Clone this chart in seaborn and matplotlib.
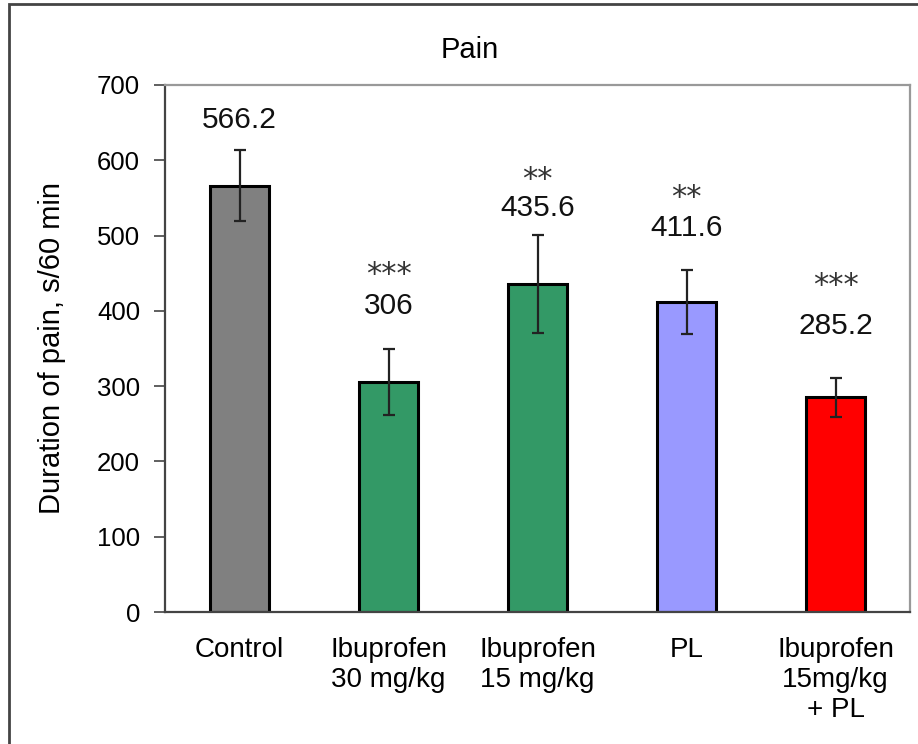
import numpy as np
import pandas as pd
import matplotlib
matplotlib.use('Agg')
import matplotlib.pyplot as plt
import seaborn as sns
from matplotlib.patches import Rectangle

# values
groups = ['Control', 'Ibuprofen\n30 mg/kg', 'Ibuprofen\n15 mg/kg', 'PL', 'Ibuprofen\n15mg/kg\n+ PL']
means = [566.2, 306, 435.6, 411.6, 285.2]
errors = [47, 44, 65, 43, 26]
labels = ['566.2', '306', '435.6', '411.6', '285.2']
stars = ['', '***', '**', '**', '***']
colors = ['#808080', '#339966', '#339966', '#9999FF', '#FF0000']

# where the number labels and stars sit (layout, y in data units)
label_y = [653, 406, 537, 510, 380]
star_gap = [0, 42, 38, 40, 54]

sns.set_style('white')
plt.rcParams['font.family'] = ['Liberation Sans', 'DejaVu Sans']
plt.rcParams['text.color'] = 'black'
plt.rcParams['axes.labelcolor'] = 'black'
plt.rcParams['xtick.color'] = 'black'
plt.rcParams['ytick.color'] = 'black'

df = pd.DataFrame({'group': groups, 'mean': means})

fig = plt.figure(figsize=(9.18, 7.44), dpi=100)
ax = fig.add_axes([165 / 918, 1 - 612 / 744, (910 - 165) / 918, (612 - 85) / 744])

sns.barplot(data=df, x='group', y='mean', hue='group', palette=colors,
            legend=False, width=0.4, edgecolor='black', linewidth=2.2,
            saturation=1, errorbar=None, ax=ax)
ax.errorbar(range(len(means)), means, yerr=errors, fmt='none',
            ecolor='#222222', elinewidth=1.6, capsize=4, capthick=1.6)

for i in range(len(means)):
    ax.text(i, label_y[i], labels[i], ha='center', va='center', fontsize=21.5, color='#111111')
    if stars[i]:
        ax.text(i, label_y[i] + star_gap[i], stars[i], ha='center', va='center', fontsize=22,
                color='#333333', family='DejaVu Sans')

ax.set_ylim(0, 700)
ax.set_yticks(range(0, 701, 100))
ax.set_xlim(-0.5, 4.5)
ax.set_xlabel('')
ax.set_ylabel('Duration of pain, s/60 min', fontsize=21, labelpad=22)
ax.tick_params(axis='y', labelsize=18.5, length=8, width=1.2, color='#444444', direction='out',
               left=True, pad=10, labelcolor='black')
ax.tick_params(axis='x', labelsize=20, length=0, pad=18, labelcolor='black')
for lab in ax.get_xticklabels():
    lab.set_linespacing(1.2)

for s in ['left', 'bottom']:
    ax.spines[s].set_color('#444444')
    ax.spines[s].set_linewidth(1.6)
for s in ['top', 'right']:
    ax.spines[s].set_color('#999999')
    ax.spines[s].set_linewidth(1.6)

fig.text(470 / 918, 1 - 50 / 744, 'Pain', ha='center', va='center', fontsize=21)

# outer frame of the picture
fig.patches.append(Rectangle((9 / 918, -0.1), 1.2, 1 - 4 / 744 + 0.1, transform=fig.transFigure,
                             fill=False, edgecolor='#444444', linewidth=2))

fig.savefig('out.png', dpi=100)
